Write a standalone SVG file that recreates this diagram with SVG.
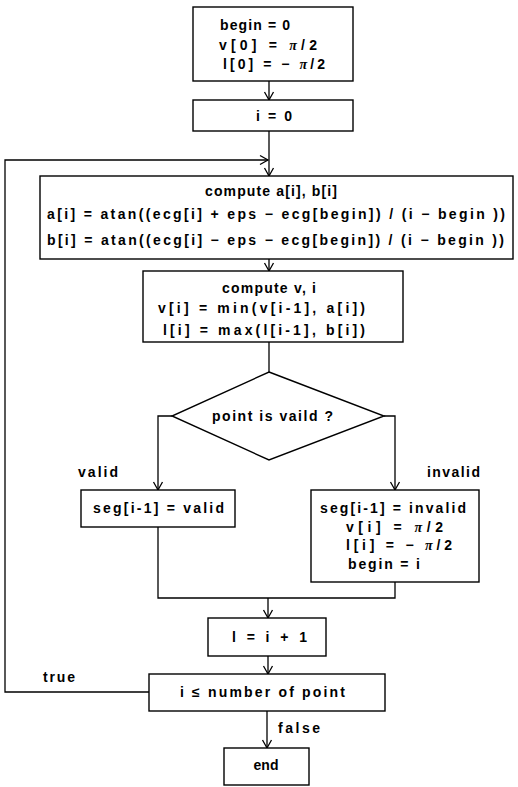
<svg xmlns="http://www.w3.org/2000/svg" width="518" height="787" viewBox="0 0 518 787">
<defs>
<marker id="arr" markerWidth="12" markerHeight="12" refX="9" refY="6" orient="auto" markerUnits="userSpaceOnUse">
<path d="M1,1.5 L9,6 L1,10.5" fill="none" stroke="#000" stroke-width="1.3"/>
</marker>
<style>
.b{fill:#fff;stroke:#000;stroke-width:1.4}
.t{font-family:"Liberation Sans",Arial,sans-serif;font-weight:bold;font-size:14px;fill:#000}
.c{text-anchor:middle}
.p{font-family:"Liberation Serif","Times New Roman",serif;font-style:italic;font-weight:bold}
.l{fill:none;stroke:#000;stroke-width:1.3}
</style>
</defs>
<rect width="518" height="787" fill="#fff"/>
<g id="connectors">
<line class="l" x1="269" y1="81" x2="269" y2="100" marker-end="url(#arr)"/>
<line class="l" x1="269" y1="131" x2="269" y2="176" marker-end="url(#arr)"/>
<polyline class="l" points="149,692 5,692 5,160 268,160" marker-end="url(#arr)"/>
<line class="l" x1="269" y1="259" x2="269" y2="271" marker-end="url(#arr)"/>
<line class="l" x1="269" y1="342" x2="269" y2="372"/>
<polyline class="l" points="172,416 158,416 158,490" marker-end="url(#arr)"/>
<polyline class="l" points="384,416 395,416 395,490" marker-end="url(#arr)"/>
<polyline class="l" points="158,527 158,598 395,598 395,582"/>
<line class="l" x1="268" y1="598" x2="268" y2="618" marker-end="url(#arr)"/>
<line class="l" x1="268" y1="656" x2="268" y2="674" marker-end="url(#arr)"/>
<line class="l" x1="267" y1="711" x2="267" y2="748" marker-end="url(#arr)"/>
<text class="t" x="78" y="477" textLength="40">valid</text>
<text class="t" x="427" y="477" textLength="53">invalid</text>
<text class="t" x="43" y="682" textLength="32">true</text>
<text class="t" x="278" y="733" textLength="42">false</text>
</g>
<g id="init">
<rect class="b" x="193" y="7" width="160" height="74"/>
<text class="t" x="220" y="30" textLength="70">begin = 0</text>
<text class="t" x="219" y="50" textLength="98">v[0]  =  <tspan class="p">π</tspan>/2</text>
<text class="t" x="223" y="69" textLength="102">l[0]  = − <tspan class="p">π</tspan>/2</text>
</g>
<g id="i0">
<rect class="b" x="193" y="100" width="160" height="31"/>
<text class="t" x="256" y="121" textLength="36">i = 0</text>
</g>
<g id="computeab">
<rect class="b" x="40" y="176" width="473" height="83"/>
<text class="t" x="205" y="196" textLength="132">compute a[i], b[i]</text>
<text class="t" x="47" y="219" textLength="458">a[i] = atan((ecg[i] + eps − ecg[begin]) / (i − begin ))</text>
<text class="t" x="47" y="245" textLength="457">b[i] = atan((ecg[i]  − eps − ecg[begin]) / (i − begin ))</text>
</g>
<g id="computevl">
<rect class="b" x="143" y="271" width="260" height="71"/>
<text class="t" x="222" y="293" textLength="94">compute v, i</text>
<text class="t" x="158" y="313" textLength="207">v[i] = min(v[i-1], a[i])</text>
<text class="t" x="163" y="335" textLength="202">l[i] = max(l[i-1], b[i])</text>
</g>
<g id="decision">
<polygon class="b" points="269,372 384,416 269,460 172,416"/>
<text class="t" x="212" y="421" textLength="121">point is vaild ?</text>
</g>
<g id="valid">
<rect class="b" x="81" y="490" width="154" height="37"/>
<text class="t" x="93" y="513" textLength="131">seg[i-1] = valid</text>
</g>
<g id="invalid">
<rect class="b" x="311" y="490" width="168" height="92"/>
<text class="t" x="320" y="513" textLength="146">seg[i-1] = invalid</text>
<text class="t" x="346" y="532" textLength="97">v[i] =  <tspan class="p">π</tspan>/2</text>
<text class="t" x="346" y="550" textLength="106">l[i] = − <tspan class="p">π</tspan>/2</text>
<text class="t" x="348" y="569" textLength="72">begin = i</text>
</g>
<g id="incr">
<rect class="b" x="208" y="618" width="118" height="38"/>
<text class="t" x="232" y="642" textLength="75">l = i + 1</text>
</g>
<g id="test">
<rect class="b" x="149" y="674" width="236" height="37"/>
<text class="t" x="180" y="697" textLength="165">i ≤ number of point</text>
</g>
<g id="end">
<rect class="b" x="224" y="748" width="85" height="37"/>
<text class="t c" x="266" y="770">end</text>
</g>
</svg>
